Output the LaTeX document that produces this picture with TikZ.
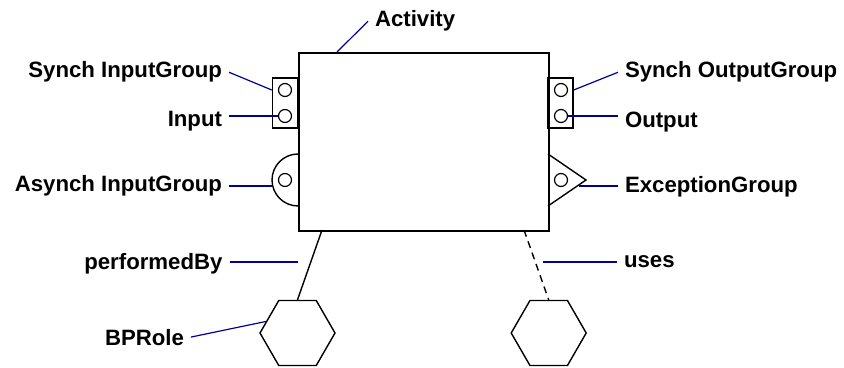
\documentclass[tikz,border=0pt]{standalone}
\usepackage{fontspec}
\setmainfont{Liberation Sans}
\usetikzlibrary{shapes.geometric}
\definecolor{leadblue}{RGB}{0,0,150}
\tikzset{
    actbox/.style = {rectangle, draw=black, line width=0.8pt, inner sep=0, anchor=north west},
    grpbox/.style = {rectangle, draw=black, line width=0.7pt, inner sep=0, minimum width=12.5pt, minimum height=25pt},
    port/.style = {circle, draw=black, line width=0.6pt, minimum size=6.5pt, inner sep=0},
    role/.style = {regular polygon, regular polygon sides=6, draw=black, line width=0.7pt, minimum size=37.5pt, inner sep=0},
    lbl/.style = {font=\bfseries\fontsize{11.1}{13}\selectfont, inner sep=0, outer sep=3.5pt},
    lead/.style = {draw=leadblue, line width=0.6pt},
    link/.style = {draw=black, line width=0.7pt},
    linkd/.style = {link, dash pattern=on 3.5pt off 2.5pt}, % uses
}

\begin{document}
\begin{tikzpicture}[x=0.5pt, y=-0.5pt]
\useasboundingbox (0,0) rectangle (844,368);
% activity with its groups
\node[actbox, minimum width=125pt, minimum height=89pt] at (298,52) (act) {};
\node[grpbox] at (285,103) (sin) {};
\node[grpbox] at (560.5,103) (sout) {};
\node[port] at (285,90) (in1) {};
\node[port] at (285,116) (in2) {};
\node[port] at (561,90) (out1) {};
\node[port] at (561,116) (out2) {};
\draw[line width=0.7pt] (298,154) arc (270:90:26);
\node[port] at (285,180) (ain) {};
\draw[line width=0.7pt] (548,154) -- (586,180) -- (548,206);
\node[port] at (561,180) (exc) {};
% roles
\node[role] at (297.5,333) (hexA) {};
\node[role] at (548.7,333) (hexB) {};
\coordinate (perfTop) at (322,230);
\coordinate (usesTop) at (524,230);
\draw[link] (perfTop) -- (hexA.north);
\draw[linkd] (usesTop) -- (hexB.north);
%
\node[lbl, anchor=base west] at (368,27) (lAct) {Activity};
\node[lbl, anchor=base east] at (229,78) (lSin) {Synch InputGroup};
\node[lbl, anchor=base east] at (229,127) (lIn) {Input};
\node[lbl, anchor=base east] at (229,192) (lAsy) {Asynch InputGroup};
\node[lbl, anchor=base east] at (229.5,270) (lPerf) {performedBy};
\node[lbl, anchor=base east] at (191,345) (lRole) {BPRole};
\node[lbl, anchor=base west] at (618,78) (lSout) {Synch OutputGroup};
\node[lbl, anchor=base west] at (618,128) (lOut) {Output};
\node[lbl, anchor=base west] at (618,193) (lExc) {ExceptionGroup};
\node[lbl, anchor=base west] at (617,268) (lUses) {uses};
%
\coordinate (actTop) at (337,52);
\coordinate (asyPt) at (272,186);
\coordinate (excPt) at (579,186);
\coordinate (perfEnd) at (298,262);
\coordinate (usesEnd) at (543,262);
\draw[lead] (actTop) -- (lAct.west);
\draw[lead] (lSin.east) -- (sin.west |- in1);
\draw[lead] (lIn.east |- in2) -- (in2.west);
\draw[lead] (lAsy.east |- asyPt) -- (asyPt);
\draw[lead] (lPerf.east |- perfEnd) -- (perfEnd);
\draw[lead] (lRole.east) -- (hexA.160);
\draw[lead] (sout.east |- out1) -- (lSout.west);
\draw[lead] (out2.east) -- (lOut.west |- out2);
\draw[lead] (excPt) -- (excPt -| lExc.west);
\draw[lead] (usesEnd) -- (usesEnd -| lUses.west);
\end{tikzpicture}
\end{document}
